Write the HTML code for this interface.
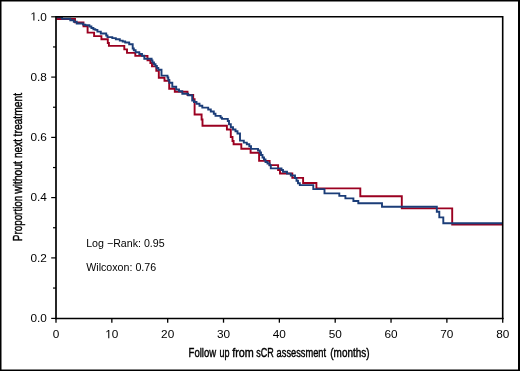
<!DOCTYPE html>
<html><head><meta charset="utf-8">
<style>
html,body{margin:0;padding:0;background:#fff;}
body{width:520px;height:371px;overflow:hidden;}
svg{display:block;will-change:transform;}
text{font-family:"Liberation Sans",sans-serif;fill:#000;opacity:0.999;}
</style></head>
<body>
<svg width="520" height="371" viewBox="0 0 520 371">
<rect x="0" y="0" width="520" height="371" fill="#fff"/>
<rect x="0.75" y="0.75" width="518" height="369.5" fill="none" stroke="#000" stroke-width="1.5"/>
<rect x="518" y="0" width="2" height="371" fill="#000"/>
<path fill="none" stroke="#9B0020" stroke-width="1.9" d="M56.5 19.0 H75 V22.4 H83.5 V26.2 H87.6 V32.6 H94.1 V36.1 H101.4 V39.2 H107.8 V43 H108.9 V45.9 H124.3 V49.4 H127 V52.9 H135.3 V55.9 H147.5 V60.2 H150.4 V63 H152 V66.4 H156.3 V70.7 H158.8 V77.8 H164.5 V80.8 H169.2 V88.7 H174.8 V91.7 H187.5 V95 H193.2 V99.3 H194.6 V114.5 H201.6 V119.5 H202.5 V125.8 H226.9 V129.5 H230.8 V137 H232.5 V141 H233.6 V144.3 H241.3 V148.8 H250.6 V152.8 H259.1 V160.9 H269.6 V165.1 H278.1 V170 H280 V173.5 H292.3 V177.9 H303.1 V183 H316.4 V188.4 H360.3 V196.3 H401.8 V208.4 H452.2 V224.6 H502.5"/>
<path fill="none" stroke="#1B3D78" stroke-width="1.9" d="M56.5 17.4 H62 V18.8 H70.3 V20.3 H73.8 V21.8 H76.7 V23.5 H83 V24.6 H85.3 V25.3 H89.4 V26.5 H91.4 V28 H93.4 V29.3 H95.3 V29.9 H97.4 V31.6 H100.8 V33.5 H106.2 V35.5 H107.5 V37.1 H112.3 V38.1 H115.8 V39.2 H119.8 V40.6 H122.7 V41.5 H125.2 V42.5 H129.2 V44.3 H132.7 V48.5 H133.8 V50.3 H135.6 V52.3 H139.3 V54 H142 V55.8 H144.3 V58.7 H151.6 V60.5 H152.5 V62.5 H154 V64.3 H155.5 V66 H156.8 V68 H158.3 V69.8 H161.5 V75.6 H167.5 V77.5 H168.3 V80 H169.3 V82.8 H172.3 V86.8 H176.2 V89.5 H179 V91.3 H182.3 V93.8 H188.2 V95.2 H192.2 V100.5 H194 V102 H196.5 V103.8 H199.5 V105.8 H202.3 V107.6 H208.2 V109.5 H210.8 V111.5 H213.8 V113.8 H215.5 V115.9 H220.6 V117.6 H222 V118.9 H227.8 V121 H229 V124.3 H230.8 V127.3 H233 V129.5 H235.5 V131.2 H237.5 V133.5 H240 V140.6 H243.8 V142.6 H246.8 V144.2 H249.3 V146.3 H251 V148.9 H258 V150.5 H259.8 V152.5 H261 V155 H262.5 V157.5 H264 V159.5 H265.5 V162 H267.5 V163.5 H269.5 V165.3 H270.8 V168.4 H281.5 V170 H283 V171.8 H287 V173.6 H290.8 V175.5 H295 V178 H296.5 V180.8 H298 V183.3 H299.8 V185.1 H313.3 V189.1 H324.5 V193.4 H339.3 V195.9 H345.4 V198.4 H353.4 V201 H358.3 V203.3 H382 V206.8 H436.8 V211.7 H439.3 V217.4 H443.3 V223.3 H502.5"/>
<g stroke="#000" fill="none">
<line x1="56" y1="16.8" x2="502.7" y2="16.8" stroke-width="1.5"/>
<line x1="502.7" y1="16" x2="502.7" y2="319" stroke-width="1.6"/>
<line x1="56" y1="16" x2="56" y2="319.2" stroke-width="1.7"/>
<line x1="55.2" y1="318.4" x2="503.5" y2="318.4" stroke-width="1.5"/>
<g stroke-width="1.2">
<line x1="51.2" y1="16.8" x2="56" y2="16.8"/><line x1="51.2" y1="77.1" x2="56" y2="77.1"/><line x1="51.2" y1="137.4" x2="56" y2="137.4"/><line x1="51.2" y1="197.6" x2="56" y2="197.6"/><line x1="51.2" y1="257.9" x2="56" y2="257.9"/><line x1="51.2" y1="318.4" x2="56" y2="318.4"/>
</g>
<g stroke-width="1.2">
<line x1="53" y1="46.95" x2="56" y2="46.95"/><line x1="53" y1="107.25" x2="56" y2="107.25"/><line x1="53" y1="167.55" x2="56" y2="167.55"/><line x1="53" y1="227.75" x2="56" y2="227.75"/><line x1="53" y1="288.05" x2="56" y2="288.05"/>
</g>
<g stroke-width="1.3">
<line x1="56.0" y1="318" x2="56.0" y2="322.7"/><line x1="111.84" y1="318" x2="111.84" y2="322.7"/><line x1="167.68" y1="318" x2="167.68" y2="322.7"/><line x1="223.52" y1="318" x2="223.52" y2="322.7"/><line x1="279.36" y1="318" x2="279.36" y2="322.7"/><line x1="335.2" y1="318" x2="335.2" y2="322.7"/><line x1="391.04" y1="318" x2="391.04" y2="322.7"/><line x1="446.88" y1="318" x2="446.88" y2="322.7"/><line x1="502.72" y1="318" x2="502.72" y2="322.7"/>
</g>
</g>
<path d="M515 0L515 1237L197 1010L197 1180L530 1409L696 1409L696 0Z" fill="#000" transform="translate(30.40 20.50) scale(0.005762 -0.005762)"/>
<text id="yl0" x="46.8" y="20.5" font-size="11.8" text-anchor="end">.0</text>
<text id="yl1" x="46.8" y="80.8" font-size="11.8" text-anchor="end">0.8</text>
<text id="yl2" x="46.8" y="141.1" font-size="11.8" text-anchor="end">0.6</text>
<text id="yl3" x="46.8" y="201.3" font-size="11.8" text-anchor="end">0.4</text>
<text id="yl4" x="46.8" y="261.6" font-size="11.8" text-anchor="end">0.2</text>
<text id="yl5" x="46.8" y="322.1" font-size="11.8" text-anchor="end">0.0</text>
<text id="xl0" x="56.0" y="338.2" font-size="11.8" text-anchor="middle">0</text>
<path d="M515 0L515 1237L197 1010L197 1180L530 1409L696 1409L696 0Z" fill="#000" transform="translate(105.28 338.20) scale(0.005762 -0.005762)"/>
<text id="xl1" x="105.28" y="338.2" font-size="11.8" text-anchor="start" dx="6.563">0</text>
<text id="xl2" x="167.68" y="338.2" font-size="11.8" text-anchor="middle">20</text>
<text id="xl3" x="223.52" y="338.2" font-size="11.8" text-anchor="middle">30</text>
<text id="xl4" x="279.36" y="338.2" font-size="11.8" text-anchor="middle">40</text>
<text id="xl5" x="335.2" y="338.2" font-size="11.8" text-anchor="middle">50</text>
<text id="xl6" x="391.04" y="338.2" font-size="11.8" text-anchor="middle">60</text>
<text id="xl7" x="446.88" y="338.2" font-size="11.8" text-anchor="middle">70</text>
<text id="xl8" x="502.72" y="338.2" font-size="11.8" text-anchor="middle">80</text>
<text id="ann1" x="86.2" y="247" font-size="10.8" textLength="78.5" lengthAdjust="spacingAndGlyphs">Log −Rank: 0.95</text>
<text id="ann2" x="86.2" y="270.6" font-size="10.8" textLength="70" lengthAdjust="spacingAndGlyphs">Wilcoxon: 0.76</text>
<g transform="translate(0 356.8) scale(1 1.0)"><text id="xw0" x="188.6" y="0" font-size="13.5" textLength="27.5" lengthAdjust="spacingAndGlyphs" stroke="#000" stroke-width="0.45">Follow</text><text id="xw1" x="219.6" y="0" font-size="13.5" textLength="10.0" lengthAdjust="spacingAndGlyphs" stroke="#000" stroke-width="0.45">up</text><text id="xw2" x="232.2" y="0" font-size="13.5" textLength="21.6" lengthAdjust="spacingAndGlyphs" stroke="#000" stroke-width="0.45">from</text><text id="xw3" x="256.2" y="0" font-size="13.5" textLength="17.5" lengthAdjust="spacingAndGlyphs" stroke="#000" stroke-width="0.45">sCR</text><text id="xw4" x="276.6" y="0" font-size="13.5" textLength="49.5" lengthAdjust="spacingAndGlyphs" stroke="#000" stroke-width="0.45">assessment</text><text id="xw5" x="330.3" y="0" font-size="13.5" textLength="39.2" lengthAdjust="spacingAndGlyphs" stroke="#000" stroke-width="0.45">(months)</text></g>
<g transform="translate(22.4 0) rotate(-90) scale(1 1.0)"><text id="yw0" x="-241.2" y="0" font-size="13.5" textLength="45.5" lengthAdjust="spacingAndGlyphs" stroke="#000" stroke-width="0.45">Proportion</text><text id="yw1" x="-193.7" y="0" font-size="13.5" textLength="32.6" lengthAdjust="spacingAndGlyphs" stroke="#000" stroke-width="0.45">without</text><text id="yw2" x="-158" y="0" font-size="13.5" textLength="19" lengthAdjust="spacingAndGlyphs" stroke="#000" stroke-width="0.45">next</text><text id="yw3" x="-136.4" y="0" font-size="13.5" textLength="43.4" lengthAdjust="spacingAndGlyphs" stroke="#000" stroke-width="0.45">treatment</text></g>
</svg>
</body></html>
